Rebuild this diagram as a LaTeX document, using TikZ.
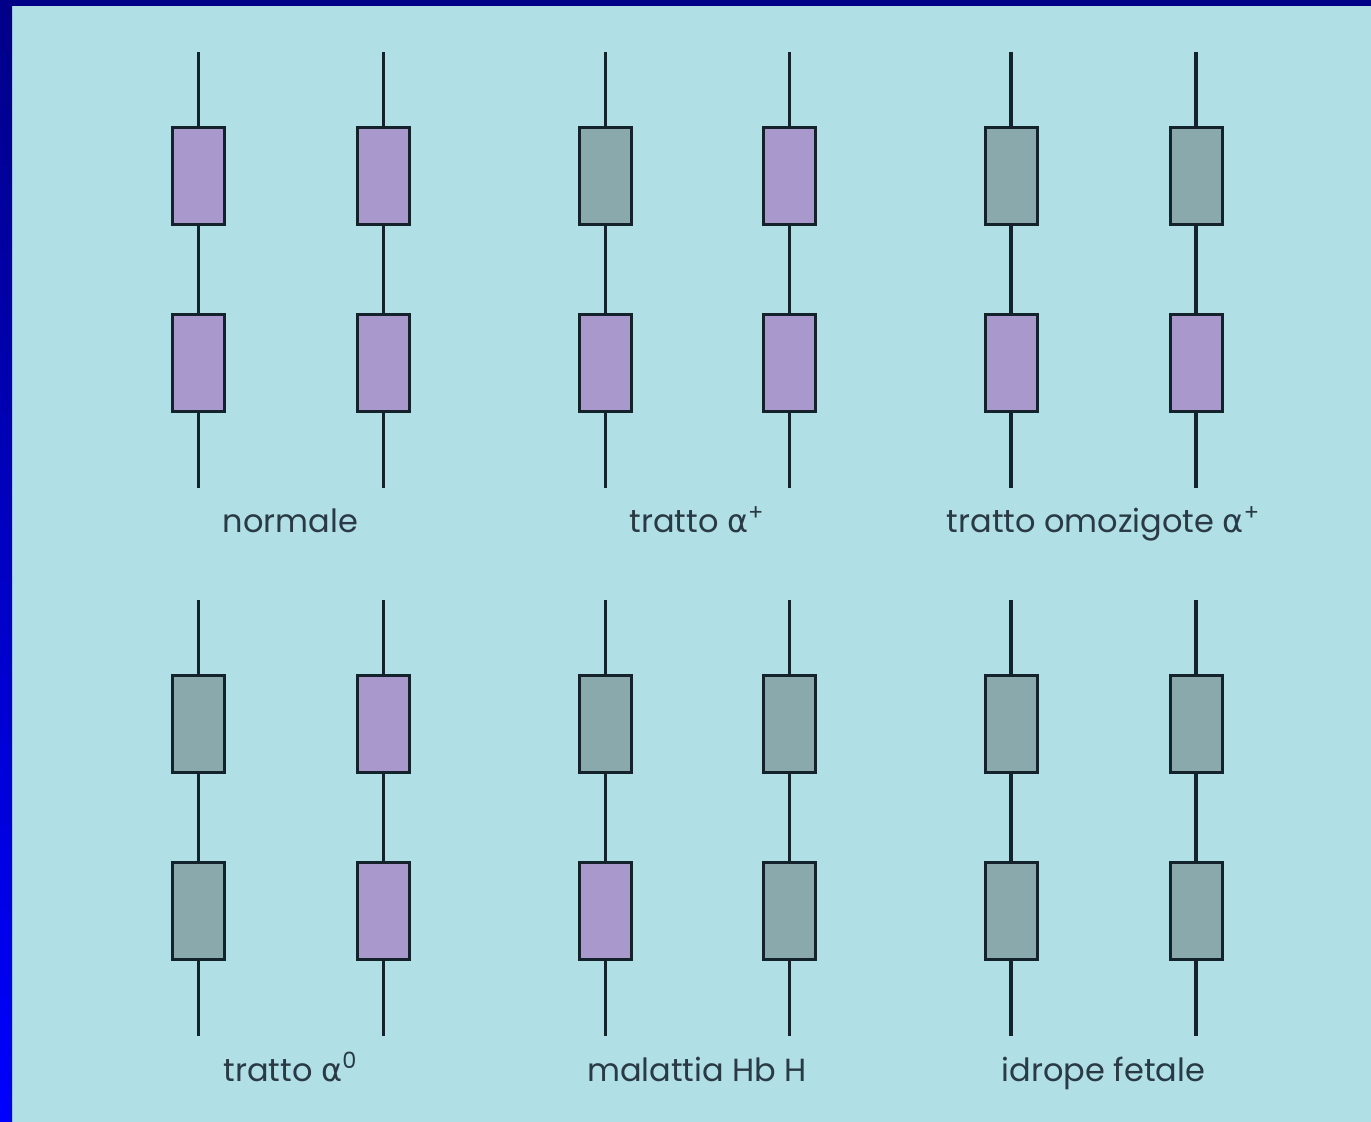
\documentclass[tikz,border=0pt]{standalone}
\usepackage{fontspec}
\setmainfont{Poppins}
\newfontfamily\greekfont{DejaVu Sans}
\definecolor{bg}{HTML}{B0DFE5}
\definecolor{purp}{HTML}{A898CC}
\definecolor{greyg}{HTML}{8AA9AC}
\definecolor{ink}{HTML}{14222C}
\definecolor{navy}{HTML}{000088}
\definecolor{labink}{HTML}{2A3A44}
\begin{document}
\begin{tikzpicture}[x=0.5pt,y=-0.5pt,
  gene/.style={draw=ink, minimum width=26pt, minimum height=48.5pt, inner sep=0pt, outer sep=0pt},
  chrom/.style={draw=ink},
  lab/.style={text=labink, font=\fontsize{16}{18}\selectfont, inner sep=0pt, anchor=base}]
\useasboundingbox (0,0) rectangle (1371,1122);
\fill[bg] (0,0) rectangle (1371,1122);
\shade[top color=navy, bottom color=blue] (0,0) rectangle (12,1122);
\fill[navy] (0,0) rectangle (1371,6);
\foreach \cxa/\cxb/\oy/\lab/\ca/\cb/\cc/\cd/\lw/\n in {
  198/383/0/{normale}/purp/purp/purp/purp/1.5/1,
  605/789/0/{tratto {\greekfont α}\textsuperscript{+}}/greyg/purp/purp/purp/1.5/2,
  1011/1196/0/{tratto omozigote {\greekfont α}\textsuperscript{+}}/greyg/purp/greyg/purp/1.9/3,
  198/383/548/{tratto {\greekfont α}\textsuperscript{0}}/greyg/greyg/purp/purp/1.5/4,
  605/789/548/{malattia Hb H}/greyg/purp/greyg/greyg/1.5/5,
  1011/1196/548/{idrope fetale}/greyg/greyg/greyg/greyg/1.9/6}{
  \coordinate (t\n a) at (\cxa,52+\oy);
  \coordinate (e\n a) at (\cxa,488+\oy);
  \coordinate (t\n b) at (\cxb,52+\oy);
  \coordinate (e\n b) at (\cxb,488+\oy);
  \node[gene, fill=\ca, line width=1.5pt] (g\n a1) at (\cxa,176+\oy) {};
  \node[gene, fill=\cb, line width=1.5pt] (g\n a2) at (\cxa,363+\oy) {};
  \node[gene, fill=\cc, line width=1.5pt] (g\n b1) at (\cxb,176+\oy) {};
  \node[gene, fill=\cd, line width=1.5pt] (g\n b2) at (\cxb,363+\oy) {};
  \draw[chrom, line width=\lw pt] (t\n a) -- (g\n a1) -- (g\n a2) -- (e\n a);
  \draw[chrom, line width=\lw pt] (t\n b) -- (g\n b1) -- (g\n b2) -- (e\n b);
  \node[lab] (l\n) at ({(\cxa+\cxb)/2},533+\oy) {\lab};
}
\end{tikzpicture}
\end{document}
